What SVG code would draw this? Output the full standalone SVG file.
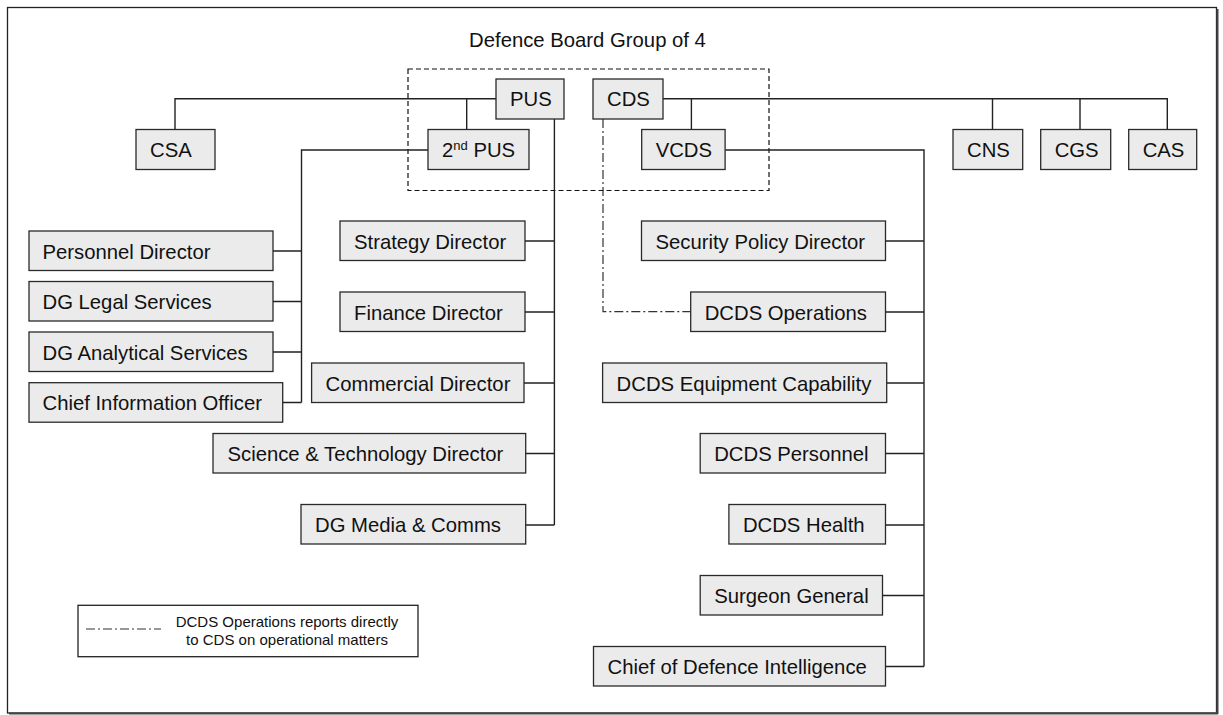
<svg xmlns="http://www.w3.org/2000/svg" width="1223" height="715" viewBox="0 0 1223 715">
<defs>
<style>
.bx{fill:#ebebeb;stroke:#2a2a2a;stroke-width:1.3}
.t{font-family:"Liberation Sans",Arial,sans-serif;font-size:20.3px;fill:#111}
.ln{fill:none;stroke:#222;stroke-width:1.4}
.dd{fill:none;stroke:#333;stroke-width:1.2;stroke-dasharray:9,3,2,3}
.dash{fill:none;stroke:#111;stroke-width:1.2;stroke-dasharray:5,3}
.lg{font-family:"Liberation Sans",Arial,sans-serif;font-size:15px;fill:#111}
</style>
</defs>
<rect x="0" y="0" width="1223" height="715" fill="#fff"/>
<rect x="7.5" y="7.5" width="1209" height="705.5" fill="none" stroke="#222" stroke-width="1.3"/>
<line x1="1217.5" y1="9" x2="1217.5" y2="714" stroke="#444" stroke-width="2"/>
<line x1="9" y1="713.5" x2="1218" y2="713.5" stroke="#444" stroke-width="2"/>

<text class="t" x="587.5" y="47" text-anchor="middle">Defence Board Group of 4</text>
<rect class="dash" x="408" y="69" width="361" height="121.5"/>

<g id="connectors">
<path class="ln" d="M175,129.5 V98.7 H496 M466.7,98.7 V129.5"/>
<path class="ln" d="M663,98.7 H1167.3 V129.5 M691.4,98.7 V129.5 M992.5,98.7 V129.5 M1080,98.7 V129.5"/>
<path class="ln" d="M428,150 H301.5 V402.5 M273,251 H301.5 M273,301.5 H301.5 M273,352 H301.5 M282.7,402.5 H301.5"/>
<path class="ln" d="M554.4,119 V525 M525,241 H554.4 M525,312 H554.4 M524,383 H554.4 M525.7,453.5 H554.4 M525.7,525 H554.4"/>
<path class="ln" d="M725.1,150 H924 V666.5 M885.5,241 H924 M885.5,312 H924 M886.7,383 H924 M885.5,453.5 H924 M885.5,525 H924 M882.5,595.5 H924 M885.5,666.5 H924"/>
<path class="dd" d="M603,119 V311.7 H690.7"/>
</g>

<g id="n-pus"><rect class="bx" x="496" y="79" width="68" height="40"/><text class="t" x="510" y="106">PUS</text></g>
<g id="n-cds"><rect class="bx" x="593" y="79" width="70" height="40"/><text class="t" x="607" y="106">CDS</text></g>
<g id="n-csa"><rect class="bx" x="136" y="129.5" width="79" height="40"/><text class="t" x="150" y="156.5">CSA</text></g>
<g id="n-2pus"><rect class="bx" x="428" y="129.5" width="101" height="40"/><text class="t" x="442" y="156.5">2<tspan font-size="13" dy="-7">nd</tspan><tspan dy="7"> PUS</tspan></text></g>
<g id="n-vcds"><rect class="bx" x="641.7" y="129.5" width="83.4" height="40"/><text class="t" x="655.7" y="156.5">VCDS</text></g>
<g id="n-cns"><rect class="bx" x="953" y="129.5" width="69.7" height="40"/><text class="t" x="967" y="156.5">CNS</text></g>
<g id="n-cgs"><rect class="bx" x="1040.7" y="129.5" width="70" height="40"/><text class="t" x="1054.7" y="156.5">CGS</text></g>
<g id="n-cas"><rect class="bx" x="1128.7" y="129.5" width="68" height="40"/><text class="t" x="1142.7" y="156.5">CAS</text></g>

<g id="n-personnel"><rect class="bx" x="29" y="231" width="244" height="39.5"/><text class="t" x="42.5" y="258.5">Personnel Director</text></g>
<g id="n-legal"><rect class="bx" x="29" y="281.5" width="244" height="39.5"/><text class="t" x="42.5" y="309">DG Legal Services</text></g>
<g id="n-analytical"><rect class="bx" x="29" y="332" width="244" height="39.5"/><text class="t" x="42.5" y="359.5">DG Analytical Services</text></g>
<g id="n-cio"><rect class="bx" x="29" y="382.7" width="253.7" height="39.5"/><text class="t" x="42.5" y="410.2">Chief Information Officer</text></g>

<g id="n-strategy"><rect class="bx" x="340" y="221" width="185" height="39.5"/><text class="t" x="354" y="248.5">Strategy Director</text></g>
<g id="n-finance"><rect class="bx" x="340" y="292" width="185" height="39.5"/><text class="t" x="354" y="319.5">Finance Director</text></g>
<g id="n-commercial"><rect class="bx" x="311.6" y="363" width="212.4" height="39.5"/><text class="t" x="325.6" y="390.5">Commercial Director</text></g>
<g id="n-st"><rect class="bx" x="213" y="433.5" width="312.7" height="39.5"/><text class="t" x="227.5" y="461">Science &amp; Technology Director</text></g>
<g id="n-media"><rect class="bx" x="301" y="504.5" width="224.7" height="39.5"/><text class="t" x="315" y="532">DG Media &amp; Comms</text></g>

<g id="n-security"><rect class="bx" x="641.5" y="221" width="244" height="39.5"/><text class="t" x="655.5" y="248.5">Security Policy Director</text></g>
<g id="n-ops"><rect class="bx" x="690.7" y="292" width="194.8" height="39.5"/><text class="t" x="704.7" y="319.5">DCDS Operations</text></g>
<g id="n-equip"><rect class="bx" x="602.6" y="363" width="284.1" height="39.5"/><text class="t" x="616.6" y="390.5">DCDS Equipment Capability</text></g>
<g id="n-dpers"><rect class="bx" x="700.2" y="433.5" width="185.3" height="39.5"/><text class="t" x="714.2" y="461">DCDS Personnel</text></g>
<g id="n-health"><rect class="bx" x="728.9" y="504.5" width="156.6" height="39.5"/><text class="t" x="742.9" y="532">DCDS Health</text></g>
<g id="n-surgeon"><rect class="bx" x="700.2" y="575.5" width="182.3" height="39.5"/><text class="t" x="714.2" y="603">Surgeon General</text></g>
<g id="n-cdi"><rect class="bx" x="593.5" y="646.5" width="292" height="39.5"/><text class="t" x="607.5" y="674">Chief of Defence Intelligence</text></g>

<g id="legend">
<rect x="78" y="605.3" width="340" height="51.4" fill="#fff" stroke="#222" stroke-width="1.3"/>
<line class="dd" x1="86" y1="629" x2="161" y2="629"/>
<text class="lg" x="287" y="627" text-anchor="middle">DCDS Operations reports directly</text>
<text class="lg" x="287" y="645" text-anchor="middle">to CDS on operational matters</text>
</g>
</svg>
